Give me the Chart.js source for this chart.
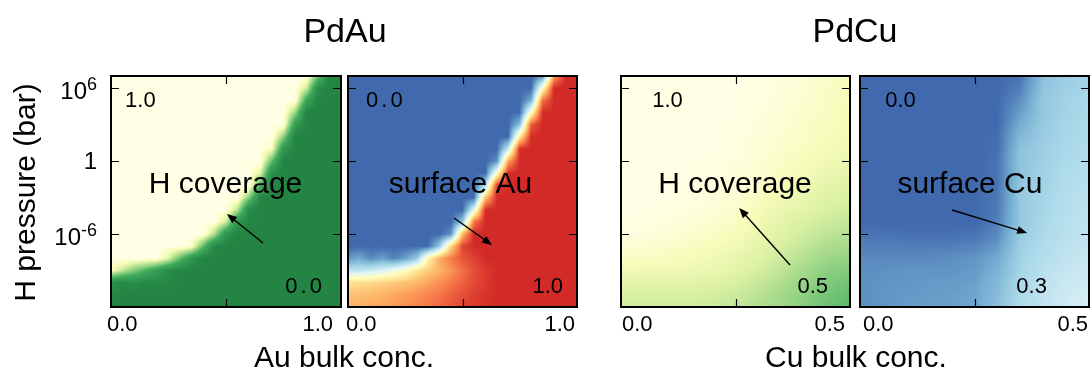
<!DOCTYPE html>
<html>
<head>
<meta charset="utf-8">
<script src="https://cdn.jsdelivr.net/npm/chart.js@4.4.0/dist/chart.umd.min.js"></script>
<style>
  body { margin: 0; background: #fff; }
  #wrap { position: relative; width: 1092px; height: 369px; }
  #wrap canvas { position: absolute; left: 0; top: 0; }
</style>
</head>
<body>
<div id="wrap">
  <canvas id="p1" width="1092" height="369"></canvas>
  <canvas id="p2" width="1092" height="369"></canvas>
  <canvas id="p3" width="1092" height="369"></canvas>
  <canvas id="p4" width="1092" height="369"></canvas>
</div>
<script>
// log10 of H pressure (bar), one row of the maps per decade, top to bottom
const pressureLevels = [7, 6, 5, 4, 3, 2, 1, 0, -1, -2, -3, -4, -5, -6, -7, -8, -9, -10, -11, -12];
const auConc = [0, 0.05, 0.1, 0.15, 0.2, 0.25, 0.3, 0.35, 0.4, 0.45, 0.5, 0.55, 0.6, 0.65, 0.7, 0.75, 0.8, 0.85, 0.9, 0.95, 1.0];
const cuConc = [0, 0.05, 0.1, 0.15, 0.2, 0.25, 0.3, 0.35, 0.4, 0.45, 0.5];

const yTickValues = [6, 0, -6];
const yTickBase = ['10', '1', '10'];
const yTickExp = ['6', '', '-6'];
const auTickLabels = ['0.0', '1.0'];
const cuTickLabels = ['0.0', '0.5'];

const figTitles = ['PdAu', 'PdCu'];
const xTitles = ['Au bulk conc.', 'Cu bulk conc.'];
const yTitle = 'H pressure (bar)';

// PdAu: H coverage (rows = pressureLevels, cols = auConc)
const pdAuCoverage = [
  [1,1,1,1,1,1,1,1,1,1,1,1,1,1,1,1,1,1,0.56,0,0],
  [1,1,1,1,1,1,1,1,1,1,1,1,1,1,1,1,1,0.78,0.09,0,0],
  [1,1,1,1,1,1,1,1,1,1,1,1,1,1,1,1,1,0.34,0,0,0],
  [1,1,1,1,1,1,1,1,1,1,1,1,1,1,1,1,0.66,0,0,0,0],
  [1,1,1,1,1,1,1,1,1,1,1,1,1,1,1,1,0.26,0,0,0,0],
  [1,1,1,1,1,1,1,1,1,1,1,1,1,1,1,0.62,0,0,0,0,0],
  [1,1,1,1,1,1,1,1,1,1,1,1,1,1,0.91,0.2,0,0,0,0,0],
  [1,1,1,1,1,1,1,1,1,1,1,1,1,1,0.5,0,0,0,0,0,0],
  [1,1,1,1,1,1,1,1,1,1,1,1,1,0.82,0.09,0,0,0,0,0,0],
  [1,1,1,1,1,1,1,1,1,1,1,1,1,0.41,0,0,0,0,0,0,0],
  [1,1,1,1,1,1,1,1,1,1,1,1,0.6,0,0,0,0,0,0,0,0],
  [1,1,1,1,1,1,1,1,1,1,1,0.72,0.07,0,0,0,0,0,0,0,0],
  [1,1,1,1,1,1,1,1,1,1,0.79,0.16,0,0,0,0,0,0,0,0,0],
  [1,1,1,1,1,1,1,1,1,0.7,0.17,0,0,0,0,0,0,0,0,0,0],
  [1,1,1,1,1,1,1,0.96,0.5,0.04,0,0,0,0,0,0,0,0,0,0,0],
  [1,1,1,1,1,0.82,0.5,0.18,0,0,0,0,0,0,0,0,0,0,0,0,0],
  [0.92,0.75,0.58,0.42,0.25,0.08,0,0,0,0,0,0,0,0,0,0,0,0,0,0,0],
  [0.1,0.05,0.1,0.04,0.06,0.02,0,0,0,0,0,0,0,0,0,0,0,0,0,0,0],
  [0.04,0,0,0,0,0,0,0,0,0,0,0,0,0,0,0,0,0,0,0,0],
  [0,0,0,0,0,0,0,0,0,0,0,0,0,0,0,0,0,0,0,0,0]
];

// PdAu: surface Au fraction
const pdAuSurface = [
  [0,0,0,0,0,0,0,0,0,0,0,0,0,0,0,0,0,0.06,0.77,1,1],
  [0,0,0,0,0,0,0,0,0,0,0,0,0,0,0,0,0,0.5,1,1,1],
  [0,0,0,0,0,0,0,0,0,0,0,0,0,0,0,0,0.13,0.87,1,1,1],
  [0,0,0,0,0,0,0,0,0,0,0,0,0,0,0,0,0.5,1,1,1,1],
  [0,0,0,0,0,0,0,0,0,0,0,0,0,0,0,0.18,0.91,1,1,1,1],
  [0,0,0,0,0,0,0,0,0,0,0,0,0,0,0,0.59,1,1,1,1,1],
  [0,0,0,0,0,0,0,0,0,0,0,0,0,0,0.32,1,1,1,1,1,1],
  [0,0,0,0,0,0,0,0,0,0,0,0,0,0.06,0.77,1,1,1,1,1,1],
  [0,0,0,0,0,0,0,0,0,0,0,0,0,0.5,1,1,1,1,1,1,1],
  [0,0,0,0,0,0,0,0,0,0,0,0,0.26,0.96,1,1,1,1,1,1,1],
  [0,0,0,0,0,0,0,0,0,0,0,0,0.7,1,1,1,1,1,1,1,1],
  [0,0,0,0,0,0,0,0,0,0,0,0.38,1,1,1,1,1,1,1,1,1],
  [0,0,0,0,0,0,0,0,0,0,0.19,0.86,1,1,1,1,1,1,1,1,1],
  [0,0,0,0,0,0,0,0,0,0.07,0.72,1,1,1,1,1,1,1,1,1,1],
  [0,0,0,0,0,0,0,0,0.21,0.65,0.95,1,1,1,1,1,1,1,1,1,1],
  [0.08,0.12,0.06,0.1,0.05,0.1,0.2,0.55,0.75,0.85,0.92,0.96,1,1,1,1,1,1,1,1,1],
  [0.3,0.3,0.33,0.37,0.42,0.5,0.6,0.68,0.74,0.8,0.87,0.93,0.97,1,1,1,1,1,1,1,1],
  [0.62,0.63,0.64,0.66,0.68,0.7,0.73,0.77,0.81,0.85,0.9,0.94,0.97,1,1,1,1,1,1,1,1],
  [0.7,0.71,0.72,0.74,0.76,0.78,0.8,0.83,0.86,0.9,0.93,0.96,0.98,1,1,1,1,1,1,1,1],
  [0.74,0.75,0.76,0.77,0.79,0.81,0.83,0.86,0.89,0.92,0.95,0.97,0.99,1,1,1,1,1,1,1,1]
];

// PdCu: H coverage (cols = cuConc)
const pdCuCoverage = [
  [1,1,1,1,1,1,0.99,0.98,0.96,0.93,0.9],
  [1,1,1,1,1,1,0.99,0.98,0.96,0.93,0.9],
  [1,1,1,1,1,1,0.99,0.97,0.95,0.92,0.9],
  [1,1,1,1,1,1,0.98,0.97,0.94,0.92,0.89],
  [1,1,1,1,1,0.99,0.98,0.96,0.93,0.91,0.89],
  [1,1,1,1,1,0.99,0.97,0.95,0.93,0.9,0.88],
  [1,1,1,1,1,0.99,0.97,0.94,0.92,0.89,0.87],
  [1,1,1,1,0.99,0.98,0.96,0.93,0.9,0.88,0.86],
  [1,1,1,1,0.99,0.98,0.95,0.92,0.89,0.86,0.84],
  [1,1,1,0.99,0.98,0.97,0.94,0.9,0.87,0.84,0.82],
  [1,1,1,0.99,0.98,0.96,0.92,0.88,0.85,0.82,0.8],
  [1,1,0.99,0.98,0.97,0.94,0.9,0.86,0.83,0.8,0.78],
  [1,0.99,0.98,0.97,0.95,0.92,0.88,0.84,0.8,0.77,0.75],
  [0.99,0.98,0.96,0.95,0.93,0.9,0.86,0.82,0.78,0.74,0.72],
  [0.97,0.95,0.94,0.92,0.9,0.88,0.84,0.8,0.75,0.7,0.68],
  [0.93,0.92,0.91,0.9,0.88,0.85,0.82,0.77,0.72,0.66,0.63],
  [0.88,0.88,0.88,0.87,0.86,0.83,0.79,0.74,0.68,0.61,0.58],
  [0.84,0.84,0.84,0.83,0.82,0.8,0.76,0.71,0.64,0.57,0.53],
  [0.8,0.8,0.8,0.8,0.79,0.77,0.73,0.68,0.61,0.54,0.5],
  [0.78,0.78,0.78,0.78,0.77,0.75,0.71,0.66,0.59,0.52,0.48]
];

// PdCu: surface Cu fraction
const pdCuSurface = [
  [0,0,0,0,0,0,0,0.02,0.18,0.22,0.24],
  [0,0,0,0,0,0,0,0.04,0.19,0.22,0.24],
  [0,0,0,0,0,0,0,0.07,0.2,0.23,0.25],
  [0,0,0,0,0,0,0,0.1,0.2,0.23,0.25],
  [0,0,0,0,0,0,0,0.13,0.21,0.24,0.26],
  [0,0,0,0,0,0,0.01,0.16,0.21,0.24,0.26],
  [0,0,0,0,0,0,0.01,0.18,0.22,0.25,0.27],
  [0,0,0,0,0,0,0.02,0.19,0.22,0.25,0.27],
  [0,0,0,0,0,0,0.02,0.19,0.23,0.26,0.28],
  [0,0,0,0,0,0,0.02,0.2,0.23,0.26,0.28],
  [0,0,0,0,0,0,0.03,0.2,0.24,0.27,0.29],
  [0,0,0,0,0,0,0.03,0.2,0.24,0.27,0.29],
  [0,0,0,0,0,0,0.04,0.2,0.25,0.28,0.3],
  [0.02,0.02,0.01,0.01,0.01,0.02,0.06,0.21,0.25,0.28,0.3],
  [0.04,0.04,0.04,0.04,0.04,0.05,0.09,0.22,0.26,0.29,0.31],
  [0.06,0.06,0.06,0.06,0.07,0.08,0.12,0.23,0.27,0.3,0.32],
  [0.07,0.07,0.08,0.08,0.08,0.09,0.14,0.24,0.28,0.31,0.33],
  [0.07,0.08,0.08,0.09,0.09,0.1,0.16,0.25,0.29,0.32,0.34],
  [0.07,0.08,0.09,0.09,0.1,0.11,0.17,0.25,0.3,0.33,0.35],
  [0.07,0.08,0.09,0.1,0.1,0.11,0.18,0.26,0.3,0.33,0.36]
];

// colour maps
const greenStops = [[0, '#238443'], [0.4, '#41ab5d'], [0.55, '#78c679'], [0.7, '#addd8e'], [0.8, '#d9f0a3'], [0.9, '#f7fcb9'], [1, '#ffffe5']];
const blueRedStops = [[0, '#4169ae'], [0.125, '#74add1'], [0.25, '#abd9e9'], [0.375, '#e0f3f8'], [0.5, '#ffffbf'],
  [0.625, '#fee090'], [0.75, '#fdae61'], [0.875, '#f46d43'], [1, '#d22b27']];

const FONT = '"Liberation Sans", Arial, Helvetica, sans-serif';

function hexToRgb(h) {
  return [parseInt(h.slice(1, 3), 16), parseInt(h.slice(3, 5), 16), parseInt(h.slice(5, 7), 16)];
}
function makeCmap(stops) {
  const s = stops.map(([p, c]) => [p, hexToRgb(c)]);
  return v => {
    v = Math.max(0, Math.min(1, v));
    for (let k = 1; k < s.length; k++) {
      if (v <= s[k][0]) {
        const t = (v - s[k - 1][0]) / (s[k][0] - s[k - 1][0]);
        const a = s[k - 1][1], b = s[k][1];
        return [a[0] + (b[0] - a[0]) * t, a[1] + (b[1] - a[1]) * t, a[2] + (b[2] - a[2]) * t];
      }
    }
    return s[s.length - 1][1];
  };
}

const panels = [
  { id: 'p1', box: { left: 111, top: 76, right: 341, bottom: 307 }, xs: auConc, xMax: 1.0, grid: pdAuCoverage,
    cmap: makeCmap(greenStops), name: 'H coverage', nameAt: [0.498, -2.6],
    arrow: [[0.661, -6.73], [0.504, -4.35]],
    corners: [{ t: '1.0', at: [0.061, 4.45], align: 'left' }, { t: '0.0', at: [0.93, -10.85], align: 'right', sp: 3 }],
    xLabels: auTickLabels, xLabelShift: [-4, -8], midTick: 0.5, yLabels: true },
  { id: 'p2', box: { left: 348, top: 76, right: 577, bottom: 307 }, xs: auConc, xMax: 1.0, grid: pdAuSurface,
    cmap: makeCmap(blueRedStops), name: 'surface Au', nameAt: [0.491, -2.6],
    arrow: [[0.463, -4.68], [0.629, -6.9]],
    corners: [{ t: '0.0', at: [0.079, 4.45], align: 'left', sp: 3 }, { t: '1.0', at: [0.939, -10.85], align: 'right' }],
    xLabels: auTickLabels, xLabelShift: [-2, -2], midTick: 0.5, yLabels: false },
  { id: 'p3', box: { left: 621, top: 76, right: 850, bottom: 307 }, xs: cuConc, xMax: 0.5, grid: pdCuCoverage,
    cmap: makeCmap(greenStops), name: 'H coverage', nameAt: [0.249, -2.6],
    arrow: [[0.369, -8.54], [0.258, -3.86]],
    corners: [{ t: '1.0', at: [0.068, 4.45], align: 'left' }, { t: '0.5', at: [0.452, -10.85], align: 'right' }],
    xLabels: cuTickLabels, xLabelShift: [1, -5], midTick: 0.25, yLabels: false },
  { id: 'p4', box: { left: 860, top: 76, right: 1089, bottom: 307 }, xs: cuConc, xMax: 0.5, grid: pdCuSurface,
    cmap: makeCmap(blueRedStops), name: 'surface Cu', nameAt: [0.24, -2.6],
    arrow: [[0.201, -4.02], [0.365, -5.91]],
    corners: [{ t: '0.0', at: [0.055, 4.45], align: 'left' }, { t: '0.3', at: [0.408, -10.85], align: 'right' }],
    xLabels: cuTickLabels, xLabelShift: [3, -1], midTick: 0.25, yLabels: false }
];

// paints the map from the dataset cells, bilinear between cell centres
const heatPlugin = {
  id: 'heat',
  beforeDatasetsDraw(chart) {
    const ds = chart.data.datasets[0];
    const { ctx, chartArea: a, scales: { x, y } } = chart;
    const nCols = ds.nCols, nRows = ds.nRows;
    const grid = [];
    ds.data.forEach(c => { (grid[c.j] = grid[c.j] || [])[c.i] = c.v; });
    const x0 = ds.data[0].x, dx = ds.data[1].x - ds.data[0].x;
    const y0 = ds.data[0].y, dy = ds.data[nCols].y - ds.data[0].y;
    const w = Math.round(a.right - a.left), h = Math.round(a.bottom - a.top);
    const img = ctx.createImageData(w, h);
    for (let py = 0; py < h; py++) {
      const yv = y.getValueForPixel(a.top + py + 0.5);
      const fj = Math.max(0, Math.min(nRows - 1, (yv - y0) / dy));
      const j0 = Math.min(Math.floor(fj), nRows - 2), tj = fj - j0;
      for (let px = 0; px < w; px++) {
        const xv = x.getValueForPixel(a.left + px + 0.5);
        const fi = Math.max(0, Math.min(nCols - 1, (xv - x0) / dx));
        const i0 = Math.min(Math.floor(fi), nCols - 2), ti = fi - i0;
        const v = (1 - tj) * ((1 - ti) * grid[j0][i0] + ti * grid[j0][i0 + 1]) +
                  tj * ((1 - ti) * grid[j0 + 1][i0] + ti * grid[j0 + 1][i0 + 1]);
        const col = ds.cmap(v);
        const k = (py * w + px) * 4;
        img.data[k] = col[0]; img.data[k + 1] = col[1]; img.data[k + 2] = col[2]; img.data[k + 3] = 255;
      }
    }
    ctx.putImageData(img, a.left, a.top);
  }
};

function arrow(ctx, x1, y1, x2, y2) {
  const ang = Math.atan2(y2 - y1, x2 - x1), L = 10, W = 4;
  ctx.beginPath();
  ctx.moveTo(x1, y1);
  ctx.lineTo(x2 - Math.cos(ang) * L * 0.8, y2 - Math.sin(ang) * L * 0.8);
  ctx.lineWidth = 1.4;
  ctx.strokeStyle = '#000';
  ctx.stroke();
  ctx.beginPath();
  ctx.moveTo(x2, y2);
  ctx.lineTo(x2 - Math.cos(ang) * L - Math.sin(ang) * W, y2 - Math.sin(ang) * L + Math.cos(ang) * W);
  ctx.lineTo(x2 - Math.cos(ang) * L + Math.sin(ang) * W, y2 - Math.sin(ang) * L - Math.cos(ang) * W);
  ctx.closePath();
  ctx.fillStyle = '#000';
  ctx.fill();
}

// frame, inward ticks, tick labels and annotations
const framePlugin = {
  id: 'frame',
  afterDraw(chart) {
    const p = chart.options.plugins.panel;
    const { ctx, chartArea: a, scales: { x, y } } = chart;
    ctx.save();
    ctx.fillStyle = '#000';
    ctx.strokeStyle = '#000';

    // ticks
    ctx.lineWidth = 1.2;
    ctx.beginPath();
    yTickValues.forEach(v => {
      const py = Math.round(y.getPixelForValue(v)) + 0.5;
      ctx.moveTo(a.left, py); ctx.lineTo(a.left + 8, py);
      ctx.moveTo(a.right, py); ctx.lineTo(a.right - 8, py);
    });
    const mx = Math.round(x.getPixelForValue(p.midTick)) + 0.5;
    ctx.moveTo(mx, a.top); ctx.lineTo(mx, a.top + 8);
    ctx.moveTo(mx, a.bottom); ctx.lineTo(mx, a.bottom - 8);
    ctx.stroke();

    // border
    ctx.lineWidth = 2;
    ctx.strokeRect(a.left, a.top, a.right - a.left, a.bottom - a.top);

    // x tick labels
    ctx.font = '22px ' + FONT;
    ctx.textBaseline = 'alphabetic';
    ctx.textAlign = 'left';
    ctx.fillText(p.xLabels[0], x.getPixelForValue(0) + p.xLabelShift[0], 331);
    ctx.textAlign = 'right';
    ctx.fillText(p.xLabels[1], x.getPixelForValue(p.xMax) + p.xLabelShift[1], 331);

    // y tick labels with superscripts
    if (p.yLabels) {
      const rx = a.left - 14;
      yTickValues.forEach((v, k) => {
        const py = y.getPixelForValue(v);
        ctx.textAlign = 'right';
        if (yTickExp[k]) {
          ctx.font = '18px ' + FONT;
          ctx.fillText(yTickExp[k], rx, py + 2);
          const ew = ctx.measureText(yTickExp[k]).width;
          ctx.font = '24px ' + FONT;
          ctx.fillText(yTickBase[k], rx - ew, py + 11);
        } else {
          ctx.font = '24px ' + FONT;
          ctx.fillText(yTickBase[k], rx, py + 8);
        }
      });
    }

    // corner values
    ctx.font = '22px ' + FONT;
    p.corners.forEach(c => {
      ctx.letterSpacing = (c.sp || 0) + 'px';
      ctx.textAlign = c.align;
      ctx.fillText(c.t, x.getPixelForValue(c.at[0]), y.getPixelForValue(c.at[1]));
    });
    ctx.letterSpacing = '0px';

    // series name and arrow
    ctx.font = '30px ' + FONT;
    ctx.textAlign = 'center';
    ctx.fillText(p.name, x.getPixelForValue(p.nameAt[0]), y.getPixelForValue(p.nameAt[1]));
    arrow(ctx,
      x.getPixelForValue(p.arrow[0][0]), y.getPixelForValue(p.arrow[0][1]),
      x.getPixelForValue(p.arrow[1][0]), y.getPixelForValue(p.arrow[1][1]));
    ctx.restore();
  }
};

// figure level texts: titles and axis titles
const figPlugin = {
  id: 'fig',
  afterDraw(chart) {
    if (chart.canvas.id !== 'p1') return;
    const ctx = chart.ctx;
    ctx.save();
    ctx.fillStyle = '#000';
    ctx.textAlign = 'center';
    ctx.textBaseline = 'alphabetic';
    ctx.font = '34px ' + FONT;
    ctx.fillText(figTitles[0], (panels[0].box.left + panels[1].box.right) / 2 + 1, 42);
    ctx.fillText(figTitles[1], (panels[2].box.left + panels[3].box.right) / 2, 42);
    ctx.font = '30px ' + FONT;
    ctx.fillText(xTitles[0], (panels[0].box.left + panels[1].box.right) / 2, 367);
    ctx.fillText(xTitles[1], (panels[2].box.left + panels[3].box.right) / 2 + 1, 367);
    ctx.translate(35, (panels[0].box.top + panels[0].box.bottom) / 2 + 1);
    ctx.rotate(-Math.PI / 2);
    ctx.fillText(yTitle, 0, 0);
    ctx.restore();
  }
};

panels.forEach(p => {
  const cells = [];
  p.grid.forEach((row, j) => row.forEach((v, i) => cells.push({ x: p.xs[i], y: pressureLevels[j], v, i, j })));
  new Chart(document.getElementById(p.id), {
    type: 'scatter',
    data: {
      datasets: [{
        data: cells,
        nCols: p.xs.length,
        nRows: pressureLevels.length,
        cmap: p.cmap,
        pointRadius: 0,
        pointHoverRadius: 0
      }]
    },
    options: {
      responsive: false,
      animation: false,
      devicePixelRatio: 1,
      events: [],
      layout: {
        padding: { left: p.box.left, top: p.box.top, right: 1092 - p.box.right, bottom: 369 - p.box.bottom }
      },
      plugins: {
        legend: { display: false },
        tooltip: { enabled: false },
        panel: p
      },
      scales: {
        x: { type: 'linear', min: 0, max: p.xMax, display: false },
        y: { type: 'linear', min: -12, max: 7, display: false }
      }
    },
    plugins: [heatPlugin, framePlugin, figPlugin]
  });
});
</script>
</body>
</html>
